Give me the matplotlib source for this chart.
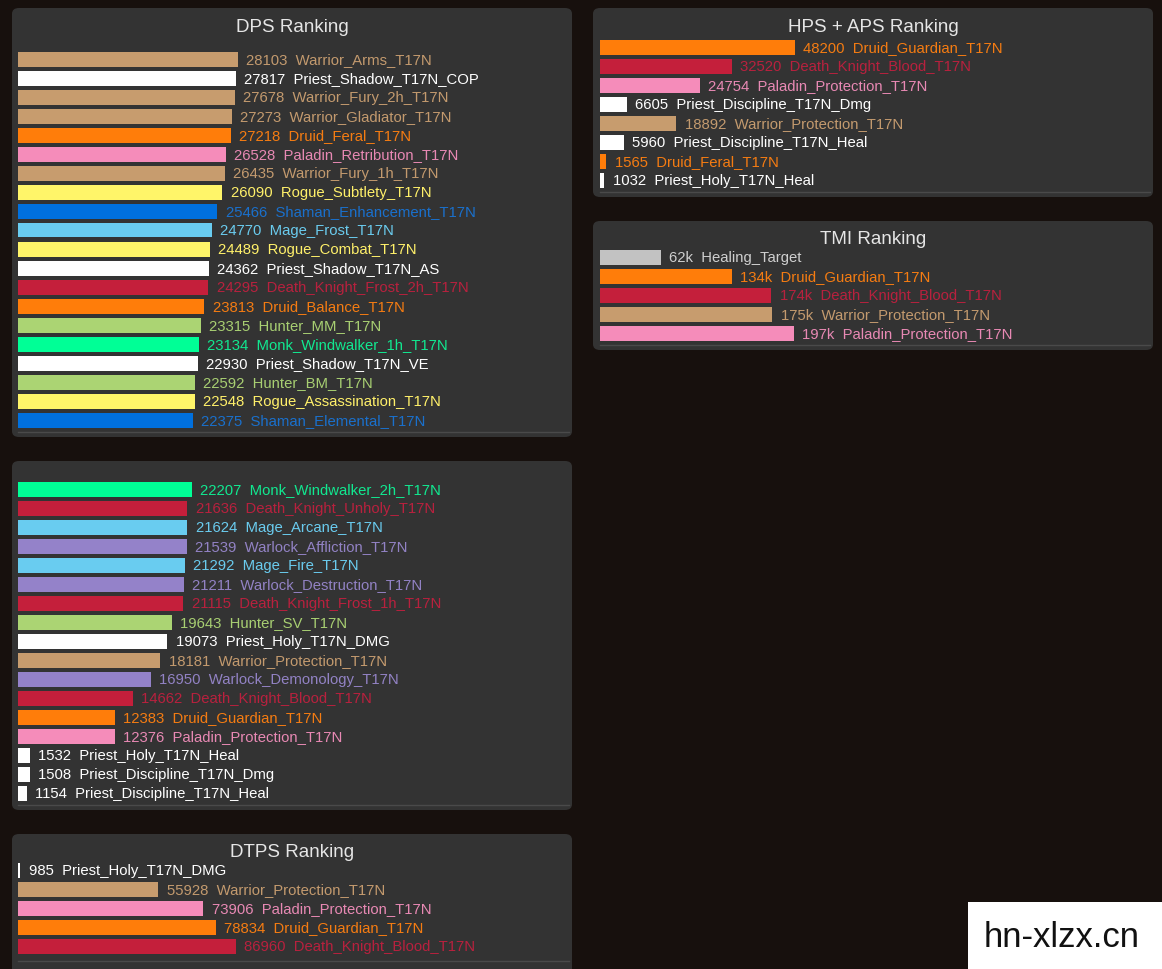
import matplotlib
matplotlib.use("Agg")
import matplotlib.pyplot as plt
from matplotlib.patches import FancyBboxPatch, Rectangle

plt.rcParams["font.family"] = ["Liberation Sans", "DejaVu Sans"]

# ------------------------------------------------------------
# Data
# ------------------------------------------------------------

dps_names = [
    "Warrior_Arms_T17N", "Priest_Shadow_T17N_COP", "Warrior_Fury_2h_T17N",
    "Warrior_Gladiator_T17N", "Druid_Feral_T17N", "Paladin_Retribution_T17N",
    "Warrior_Fury_1h_T17N", "Rogue_Subtlety_T17N", "Shaman_Enhancement_T17N",
    "Mage_Frost_T17N", "Rogue_Combat_T17N", "Priest_Shadow_T17N_AS",
    "Death_Knight_Frost_2h_T17N", "Druid_Balance_T17N", "Hunter_MM_T17N",
    "Monk_Windwalker_1h_T17N", "Priest_Shadow_T17N_VE", "Hunter_BM_T17N",
    "Rogue_Assassination_T17N", "Shaman_Elemental_T17N",
]
dps_values = [28103, 27817, 27678, 27273, 27218, 26528, 26435, 26090, 25466,
              24770, 24489, 24362, 24295, 23813, 23315, 23134, 22930, 22592,
              22548, 22375]

dps2_names = [
    "Monk_Windwalker_2h_T17N", "Death_Knight_Unholy_T17N", "Mage_Arcane_T17N",
    "Warlock_Affliction_T17N", "Mage_Fire_T17N", "Warlock_Destruction_T17N",
    "Death_Knight_Frost_1h_T17N", "Hunter_SV_T17N", "Priest_Holy_T17N_DMG",
    "Warrior_Protection_T17N", "Warlock_Demonology_T17N",
    "Death_Knight_Blood_T17N", "Druid_Guardian_T17N", "Paladin_Protection_T17N",
    "Priest_Holy_T17N_Heal", "Priest_Discipline_T17N_Dmg",
    "Priest_Discipline_T17N_Heal",
]
dps2_values = [22207, 21636, 21624, 21539, 21292, 21211, 21115, 19643, 19073,
               18181, 16950, 14662, 12383, 12376, 1532, 1508, 1154]

hps_names = [
    "Druid_Guardian_T17N", "Death_Knight_Blood_T17N", "Paladin_Protection_T17N",
    "Priest_Discipline_T17N_Dmg", "Warrior_Protection_T17N",
    "Priest_Discipline_T17N_Heal", "Druid_Feral_T17N", "Priest_Holy_T17N_Heal",
]
hps_values = [48200, 32520, 24754, 6605, 18892, 5960, 1565, 1032]

tmi_names = [
    "Healing_Target", "Druid_Guardian_T17N", "Death_Knight_Blood_T17N",
    "Warrior_Protection_T17N", "Paladin_Protection_T17N",
]
tmi_values = [62, 134, 174, 175, 197]  # in thousands

dtps_names = [
    "Priest_Holy_T17N_DMG", "Warrior_Protection_T17N", "Paladin_Protection_T17N",
    "Druid_Guardian_T17N", "Death_Knight_Blood_T17N",
]
dtps_values = [985, 55928, 73906, 78834, 86960]

# class colours (bar, text)
class_colors = {
    "Warrior": ("#C79C6E", "#C39A6E"),
    "Priest": ("#FFFFFF", "#FFFFFF"),
    "Druid": ("#FF7D0A", "#F57C12"),
    "Paladin": ("#F58CBA", "#E889B4"),
    "Rogue": ("#FFF569", "#FFF06A"),
    "Shaman": ("#0070DE", "#1A70CC"),
    "Mage": ("#69CCF0", "#6ACBEE"),
    "Death": ("#C41F3B", "#B8213E"),
    "Hunter": ("#ABD473", "#A8CF72"),
    "Monk": ("#00FF96", "#11E890"),
    "Warlock": ("#9482C9", "#9282C4"),
    "Healing": ("#C2C2C2", "#CFCFCF"),
}

BG = "#17100D"
PANEL = "#333333"
W, H = 1162, 970


def colors_for(names):
    bars, texts = [], []
    for n in names:
        b, t = class_colors[n.split("_")[0]]
        bars.append(b)
        texts.append(t)
    return bars, texts


# ------------------------------------------------------------
# Layout helpers (pixels, y from top)
# ------------------------------------------------------------

fig = plt.figure(figsize=(W / 100, H / 100), dpi=100)
fig.patch.set_facecolor(BG)


def panel(x0, y0, x1, y1, title=None, title_y=None):
    box = FancyBboxPatch((x0 / W, 1 - y1 / H), (x1 - x0) / W, (y1 - y0) / H,
                         boxstyle="round,pad=0,rounding_size=0.006",
                         transform=fig.transFigure, facecolor=PANEL,
                         edgecolor="none", zorder=-5)
    fig.patches.append(box)
    if title:
        fig.text((x0 + x1) / 2 / W, 1 - title_y / H, title, ha="center",
                 va="center", fontsize=13.5, color="#E6E6E6")


def ranking(names, values, left, first_y, right, max_px, fmt="{}", step=19,
            line_y=None):
    n = len(values)
    top = first_y - step / 2
    bottom = first_y + (n - 1) * step + step / 2
    ax = fig.add_axes([left / W, 1 - bottom / H, (right - left) / W,
                       (bottom - top) / H])
    ax.set_zorder(2)
    ax.set_facecolor("none")
    bar_c, text_c = colors_for(names)
    ax.barh(range(n), values, height=15 / step, color=bar_c, linewidth=0)
    ax.set_xlim(0, max(values) * (right - left) / max_px)
    ax.set_ylim(n - 0.5, -0.5)
    for i, (v, nm) in enumerate(zip(values, names)):
        ax.annotate(fmt.format(v) + "  " + nm, (v, i), xytext=(6, 0),
                    textcoords="offset points", ha="left", va="center",
                    fontsize=10.7, color=text_c[i])
    ax.axis("off")
    if line_y is not None:
        fig.add_artist(plt.Line2D([left / W, (right - 1) / W],
                                  [1 - line_y / H, 1 - line_y / H],
                                  color="#4A4A4A", linewidth=1))
    return ax


# DPS Ranking
panel(12, 9, 572, 438, "DPS Ranking", 27)
ranking(dps_names, dps_values, 18, 60, 570, 220, line_y=433)

# DPS continued
panel(12, 462, 572, 811)
ranking(dps2_names, dps2_values, 18, 490, 570, 220 * 22207 / 28103,
        line_y=806)

# DTPS Ranking
panel(12, 835, 572, 985, "DTPS Ranking", 853)
ranking(dtps_names, dtps_values, 18, 871, 570, 218, line_y=962)

# HPS + APS Ranking
panel(593, 9, 1153, 198, "HPS + APS Ranking", 27)
ranking(hps_names, hps_values, 600, 48, 1151, 195, line_y=193)

# TMI Ranking
panel(593, 222, 1153, 351, "TMI Ranking", 240)
ranking(tmi_names, tmi_values, 600, 258, 1151, 194, fmt="{}k", line_y=346)

# watermark
fig.patches.append(Rectangle((968 / W, 0), (W - 968) / W, (970 - 903) / H,
                             transform=fig.transFigure, facecolor="white",
                             edgecolor="none", zorder=5))
fig.text(1062 / W, 1 - 938 / H, "hn-xlzx.cn", ha="center", va="center",
         fontsize=25, color="#111111", zorder=6)

fig.savefig("out.png", dpi=100, facecolor=BG)
